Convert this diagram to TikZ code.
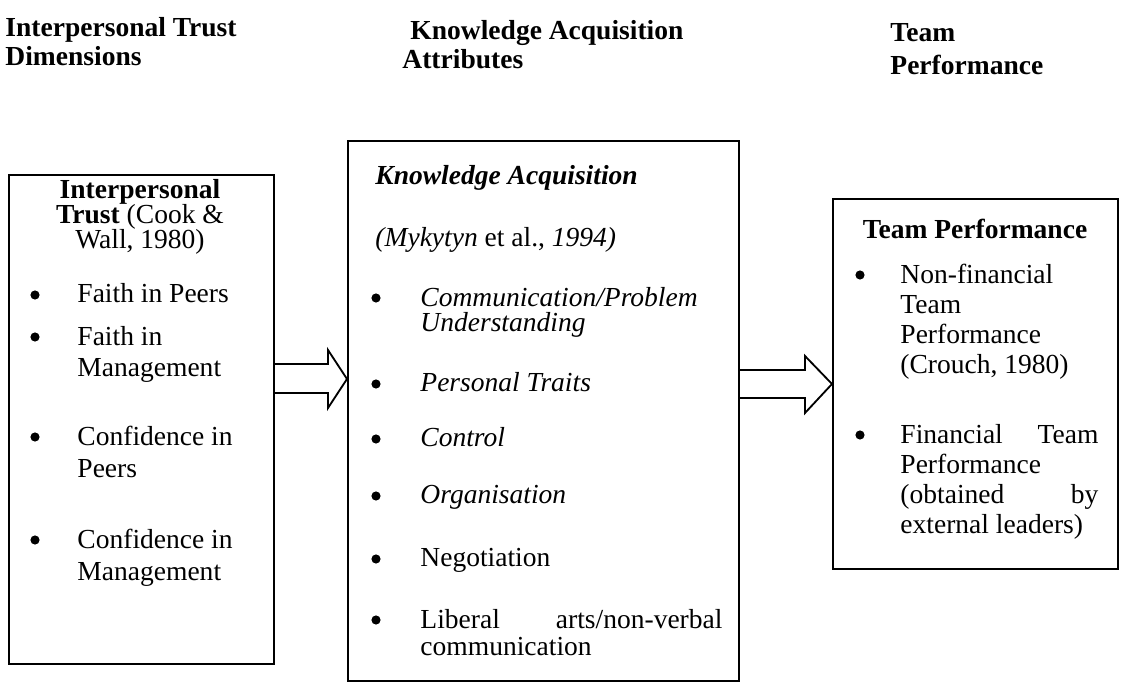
\documentclass[tikz,border=0pt]{standalone}
\usepackage{fontspec}
\setmainfont{Liberation Serif}
\usetikzlibrary{positioning}
\lineskiplimit=-20pt

\tikzset{
  frame/.style={rectangle, draw, line width=0.8pt, anchor=north west, inner sep=0pt},
  txt/.style={anchor=base west, inner sep=0pt, align=left, font=\fontsize{12}{13.6}\selectfont},
  lines/.style={txt, anchor=north west},
  head/.style={lines, font=\fontsize{12}{12.6}\selectfont\bfseries},
  dot/.style={circle, fill, inner sep=0pt, minimum size=4pt},
  blockarrow/.style={draw, line width=0.8pt, line join=miter},
}

\begin{document}
\begin{tikzpicture}[x=0.436pt, y=-0.436pt]
  \useasboundingbox (0,0) rectangle (1121,691);

  % column headings
  \node (h1) [head] at (5,17) {Interpersonal Trust\\Dimensions};
  \node (h2) [head] at (402,20) {\hspace*{3.5pt}Knowledge Acquisition\\Attributes};
  \node (h3) [head, font=\fontsize{12}{14.4}\selectfont\bfseries] at (890,23) {Team\\Performance};

  % the three boxes
  \node (trust) [frame, minimum width=115.5pt, minimum height=213.2pt] at (8,174) {};
  \node (know) [frame, minimum width=170.5pt, minimum height=235.4pt] at (347,140) {};
  \node (perf) [frame, minimum width=124.3pt, minimum height=161.3pt] at (832,198) {};

  % interpersonal trust
  \node (tt) [lines, anchor=north, align=center, font=\fontsize{12}{10.9}\selectfont]
    at (140,179) {\textbf{Interpersonal}\\\textbf{Trust} (Cook \&\\Wall, 1980)};
  \node (t1) [txt] at (77,303) {Faith in Peers};
  \node (t2) [lines] at (77,326) {Faith in\\Management};
  \node (t3) [lines] at (77,426) {Confidence in\\Peers};
  \node (t4) [lines] at (77,529) {Confidence in\\Management};
  \foreach \y [count=\i] in {295,337,437,540}
    \node (tb\i) [dot] at (35,\y) {};

  % knowledge acquisition
  \node (kt) [txt, font=\fontsize{12}{13.6}\selectfont\bfseries\itshape] at (375,185) {Knowledge Acquisition};
  \node (kr) [txt] at (375,247) {\textit{(Mykytyn} et al., \textit{1994)}};
  \node (k1) [lines, font=\fontsize{12}{10.9}\selectfont\itshape] at (420,287) {Communication/Problem\\Understanding};
  \node (k2) [txt, font=\fontsize{12}{13.6}\selectfont\itshape] at (420,392) {Personal Traits};
  \node (k3) [txt, font=\fontsize{12}{13.6}\selectfont\itshape] at (420,447) {Control};
  \node (k4) [txt, font=\fontsize{12}{13.6}\selectfont\itshape] at (420,504) {Organisation};
  \node (k5) [txt] at (420,567) {Negotiation};
  \node (k6) [lines, font=\fontsize{12}{11.8}\selectfont] at (420,609)
    {\hbox to 131.7pt{Liberal\hfill arts/non-verbal}\\communication};
  \foreach \y [count=\i] in {298,384,439,496,559,620}
    \node (kb\i) [dot] at (376,\y) {};

  % team performance
  \node (pt) [txt, anchor=base, font=\fontsize{12}{13.6}\selectfont\bfseries] at (975,239) {Team Performance};
  \node (p1) [lines, font=\fontsize{12}{13.1}\selectfont] at (900,264)
    {Non-financial\\Team\\Performance\\(Crouch, 1980)};
  \node (p2) [lines, font=\fontsize{12}{13.1}\selectfont] at (900,424)
    {\hbox to 86.3pt{Financial\hfill Team}\\Performance\\\hbox to 86.3pt{(obtained\hfill by}\\external leaders)};
  \foreach \y [count=\i] in {275,435}
    \node (pb\i) [dot] at (860,\y) {};

  % block arrows
  \draw[blockarrow] (trust.east |- 0,364) -- (328,364) -- (328,350) -- (know.west |- 0,379)
    -- (328,408) -- (328,393) -- (trust.east |- 0,393);
  \draw[blockarrow] (know.east |- 0,370) -- (805,370) -- (805,356) -- (perf.west |- 0,384)
    -- (805,413) -- (805,398) -- (know.east |- 0,398);
\end{tikzpicture}
\end{document}
